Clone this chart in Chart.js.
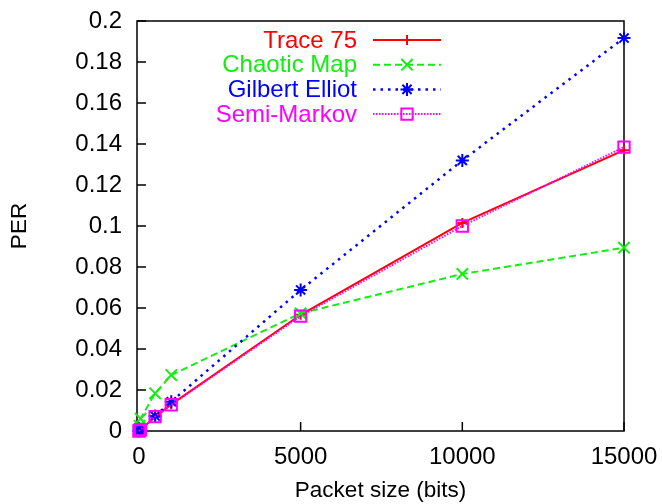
<!DOCTYPE html>
<html>
<head>
<meta charset="utf-8">
<script src="https://cdn.jsdelivr.net/npm/chart.js@4/dist/chart.umd.min.js"></script>
<style>
  html, body { margin: 0; padding: 0; background: #fff; }
</style>
</head>
<body>
<canvas id="perChart" width="662" height="504"></canvas>
<script>
const packetSizes = [0, 20, 50, 500, 1000, 5000, 10000, 15000]
const trace75     = [0, 0.0003, 0.0007, 0.0068, 0.0130, 0.0567, 0.1015, 0.1370]
const chaoticMap  = [0, 0.0025, 0.0060, 0.0184, 0.0273, 0.0574, 0.0766, 0.0894]
const gilbert     = [0, 0.0003, 0.0008, 0.0073, 0.0143, 0.0688, 0.1320, 0.1917]
const semiMarkov  = [0, 0.0003, 0.0007, 0.0070, 0.0128, 0.0560, 0.1000, 0.1385]

const xTicks = [0, 5000, 10000, 15000]
const yTicks = [0, 0.02, 0.04, 0.06, 0.08, 0.1, 0.12, 0.14, 0.16, 0.18, 0.2]

const FONT = 'Liberation Sans, Arial, Helvetica, sans-serif'

function points(ys) {
    return packetSizes.map((x, i) => ({ x, y: ys[i] }))
}

function series(label, ys, color, dash, width, style, radius, order) {
    return {
        label,
        data: points(ys),
        borderColor: color,
        backgroundColor: 'transparent',
        borderWidth: width,
        borderDash: dash,
        pointStyle: style,
        pointRadius: radius,
        pointBorderWidth: 2,
        pointBorderColor: color,
        pointBackgroundColor: 'transparent',
        tension: 0,
        clip: false,
        order
    }
}

// gnuplot-like frame: full box, ticks pointing inward on left/bottom
const frame = {
    id: 'frame',
    beforeDatasetsDraw(chart) {
        const { ctx, chartArea: a, scales } = chart
        ctx.save()
        ctx.strokeStyle = '#000'
        ctx.lineWidth = 1.5
        ctx.strokeRect(a.left, a.top, a.right - a.left, a.bottom - a.top)
        ctx.beginPath()
        yTicks.forEach(v => {
            const y = scales.y.getPixelForValue(v)
            ctx.moveTo(a.left, y)
            ctx.lineTo(a.left + 9, y)
        })
        xTicks.forEach(v => {
            const x = scales.x.getPixelForValue(v)
            ctx.moveTo(x, a.bottom)
            ctx.lineTo(x, a.bottom - 9)
        })
        ctx.stroke()
        ctx.restore()
    }
}

// key in the top-left: right-aligned label, then a line sample with its marker
const key = {
    id: 'key',
    afterDatasetsDraw(chart, args, opts) {
        const { ctx } = chart
        ctx.save()
        ctx.font = '24px ' + FONT
        ctx.textAlign = 'right'
        ctx.textBaseline = 'middle'
        chart.data.datasets.forEach((ds, i) => {
            const y = opts.top + i * opts.spacing
            ctx.fillStyle = ds.borderColor
            ctx.fillText(ds.label, opts.textRight, y + 1)
            ctx.strokeStyle = ds.borderColor
            ctx.lineWidth = ds.borderWidth
            ctx.setLineDash(ds.borderDash)
            ctx.beginPath()
            ctx.moveTo(opts.lineFrom, y)
            ctx.lineTo(opts.lineTo, y)
            ctx.stroke()
            ctx.setLineDash([])
            ctx.fillStyle = 'transparent'
            ctx.lineWidth = ds.pointBorderWidth
            Chart.helpers.drawPoint(ctx, {
                pointStyle: ds.pointStyle,
                radius: ds.pointRadius,
                borderWidth: ds.pointBorderWidth,
                rotation: 0
            }, (opts.lineFrom + opts.lineTo) / 2, y)
        })
        ctx.restore()
    }
}

new Chart(document.getElementById('perChart'), {
    type: 'line',
    data: {
        datasets: [
            series('Trace 75', trace75, '#ff0000', [], 2, 'cross', 5, 4),
            series('Chaotic Map', chaoticMap, '#11ee11', [7, 4], 2, 'crossRot', 8, 3),
            series('Gilbert Elliot', gilbert, '#0000ff', [2.5, 5], 2.5, 'star', 6.5, 2),
            series('Semi-Markov', semiMarkov, '#ff00ff', [1.5, 1.5], 2, 'rect', 8, 1)
        ]
    },
    options: {
        responsive: false,
        animation: false,
        devicePixelRatio: 1,
        layout: { padding: { top: 21, right: 38, left: 0, bottom: 0 } },
        plugins: {
            legend: { display: false },
            tooltip: { enabled: false },
            key: { top: 40, spacing: 24.7, textRight: 357, lineFrom: 373, lineTo: 441 }
        },
        scales: {
            x: {
                type: 'linear',
                min: -60,
                max: 15000,
                afterBuildTicks: s => { s.ticks = xTicks.map(v => ({ value: v })) },
                afterFit: s => {
                    s.height = 73
                    s.paddingLeft = 0
                    s.paddingRight = 0
                },
                grid: { display: false, drawTicks: false },
                border: { display: false },
                ticks: {
                    color: '#000',
                    padding: 12,
                    maxRotation: 0,
                    font: { family: FONT, size: 24 },
                    callback: v => String(v)
                },
                title: {
                    display: true,
                    text: 'Packet size (bits)',
                    color: '#000',
                    font: { family: FONT, size: 22.5 },
                    padding: { top: 0, bottom: 0 }
                }
            },
            y: {
                min: 0,
                max: 0.2,
                afterBuildTicks: s => { s.ticks = yTicks.map(v => ({ value: v })) },
                afterFit: s => {
                    s.width = 137
                    s.paddingTop = 0
                    s.paddingBottom = 0
                },
                grid: { display: false, drawTicks: false },
                border: { display: false },
                ticks: {
                    color: '#000',
                    padding: 15,
                    font: { family: FONT, size: 24 },
                    callback: v => String(+v.toFixed(2))
                },
                title: {
                    display: true,
                    text: 'PER',
                    color: '#000',
                    font: { family: FONT, size: 22.5 },
                    padding: { top: 6, bottom: 0 }
                }
            }
        }
    },
    plugins: [frame, key]
})
</script>
</body>
</html>
